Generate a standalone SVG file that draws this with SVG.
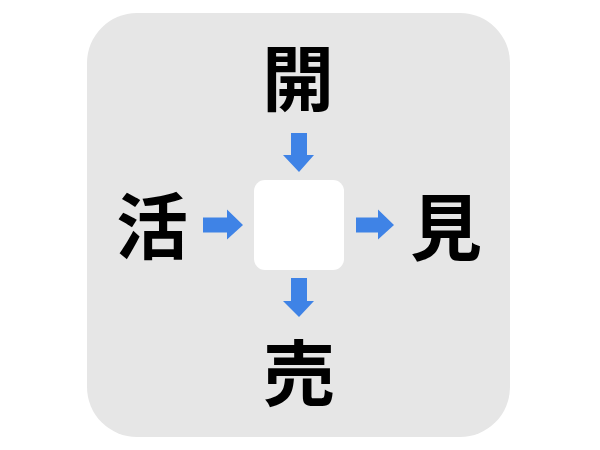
<svg xmlns="http://www.w3.org/2000/svg" width="600" height="450" viewBox="0 0 600 450">
<style>
.k{font-family:"Noto Sans CJK JP","Noto Sans CJK SC",sans-serif;font-weight:700;font-size:72px;fill:#000;text-anchor:middle}
.a{fill:#3f83e6}
</style>
<rect width="600" height="450" fill="#fff"/>
<rect id="panel" x="87" y="13" width="423" height="424" rx="50" fill="#e6e6e6"/>
<g id="center"><rect x="254" y="180" width="90" height="90" rx="11" fill="#fff"/></g>
<g id="top"><text class="k" x="298" y="105">開</text></g>
<g id="left"><text class="k" x="152" y="253">活</text></g>
<g id="right"><text class="k" x="446" y="254">見</text></g>
<g id="bottom"><text class="k" x="299" y="400">売</text></g>
<g id="connectors">
<polygon class="a" points="291,133 307,133 307,155 314,155 299,172 283,155 291,155"/>
<polygon class="a" points="291,278 307,278 307,301 314,301 299,317 283,301 291,301"/>
<polygon class="a" points="203,217.5 227,217.5 227,209.5 243,225 227,239.5 227,232.5 203,232.5"/>
<polygon class="a" points="356,217.5 378,217.5 378,209.5 394,225 378,239.5 378,232.5 356,232.5"/>
</g>
</svg>
